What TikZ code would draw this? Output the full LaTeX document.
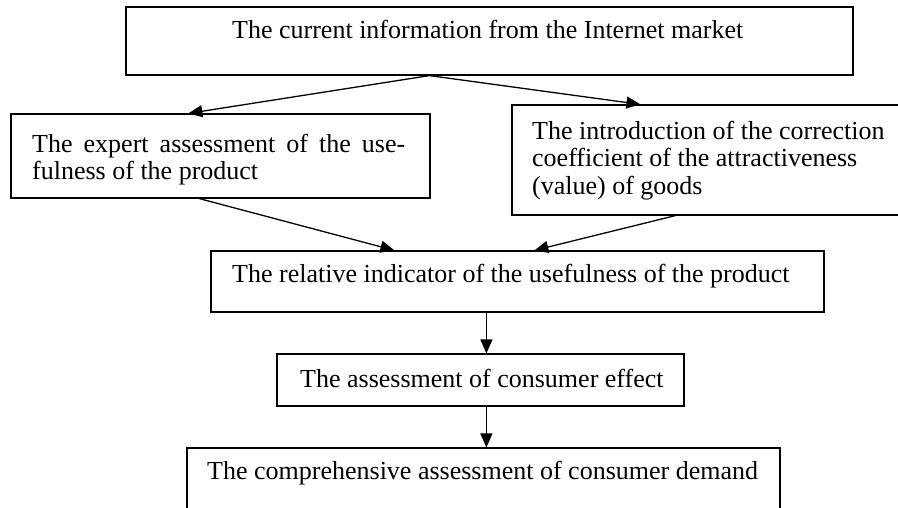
\documentclass[tikz,border=0pt]{standalone}
\usepackage{fontspec}
\setmainfont{Liberation Serif}
\usetikzlibrary{arrows.meta}
\tikzset{
  box/.style={draw=black, line width=1.2pt, rectangle, inner sep=0pt},
  txt/.style={anchor=base west, inner sep=0pt, font=\fontsize{26}{29}\selectfont},
  arr/.style={line width=1.3pt, -{Triangle[length=14pt,width=12pt]}}
}
\begin{document}
\begin{tikzpicture}[x=1pt,y=-1pt]
\useasboundingbox (0,0) rectangle (898,508);
\fill[white] (0,0) rectangle (898,508);
\clip (0,0) rectangle (898,508);
% boxes
\node[box, minimum width=727pt, minimum height=68pt] (top) at (489.5,41) {};
\node[box, minimum width=419pt, minimum height=84pt] (left) at (220.5,156) {};
\node[box, minimum width=393pt, minimum height=110pt] (right) at (708.5,160) {};
\node[box, minimum width=613pt, minimum height=61pt] (mid) at (517.5,281.5) {};
\node[box, minimum width=407pt, minimum height=52pt] (eff) at (480.5,380) {};
\node[box, minimum width=593pt, minimum height=80pt] (bot) at (483.5,488) {};
% texts
\node[txt] (t1) at (232,39) {The current information from the Internet market};
\node[txt] (l1) at (32,153) {\makebox[373pt][s]{The expert assessment of the use-}};
\node[txt] (l2) at (32,180) {fulness of the product};
\node[txt] (r1) at (532,140) {The introduction of the correction};
\node[txt] (r2) at (532,167) {coefficient of the attractiveness};
\node[txt] (r3) at (532,195) {(value) of goods};
\node[txt] (m1) at (232,283) {The relative indicator of the usefulness of the product};
\node[txt] (e1) at (300,387) {The assessment of consumer effect};
\node[txt] (b1) at (207,479) {The comprehensive assessment of consumer demand};
% connectors
\coordinate (apex) at ([xshift=304pt]top.south west);
\draw[arr] (apex) -- ([xshift=178pt]left.north west);
\draw[arr] (apex) -- ([xshift=129pt]right.north west);
\draw[arr] ([xshift=189pt]left.south west) -- ([xshift=184pt]mid.north west);
\draw[arr] ([xshift=164pt]right.south west) -- ([xshift=324pt]mid.north west);
\draw[arr] ([xshift=276pt]mid.south west) -- ([xshift=210pt]eff.north west);
\draw[arr] ([xshift=210pt]eff.south west) -- ([xshift=300pt]bot.north west);
\end{tikzpicture}
\end{document}
